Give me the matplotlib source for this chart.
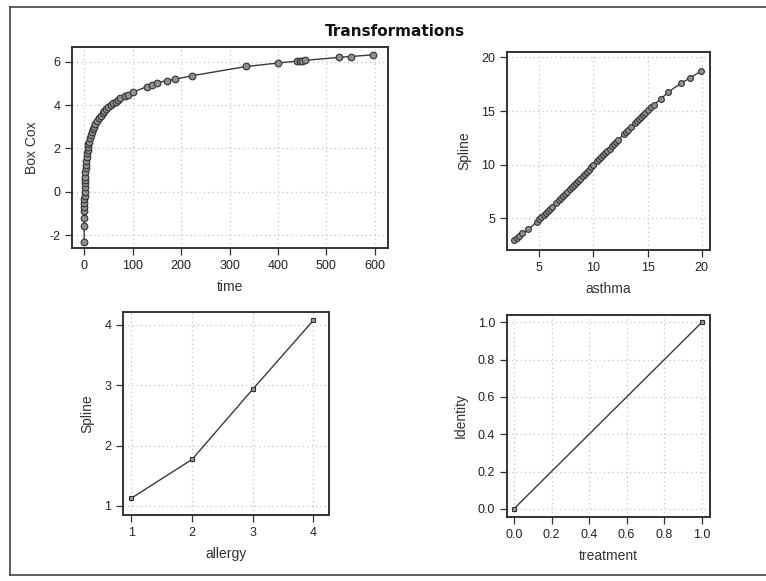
import matplotlib
matplotlib.use("Agg")
import matplotlib.pyplot as plt
from matplotlib.lines import Line2D

plt.rcParams['font.family'] = ['Liberation Sans', 'DejaVu Sans']
plt.rcParams['axes.unicode_minus'] = False

# ---- data ----
time_vals = [0.1, 0.2, 0.3, 0.4, 0.5, 0.6, 0.7, 0.8, 1.0, 1.2, 1.5, 1.7, 2, 2.5, 3, 3.5,
             4, 5, 6, 7, 8, 9, 10, 12, 14, 16, 18, 20, 23, 26, 30, 34, 38, 42, 46, 50,
             55, 60, 65, 70, 75, 85, 90, 100, 130, 140, 150, 170, 188, 222, 335, 400,
             440, 445, 450, 455, 525, 550, 597]
boxcox_vals = [-2.3, -1.6, -1.2, -0.9, -0.7, -0.5, -0.35, -0.2, 0.0, 0.2, 0.4, 0.55, 0.7,
               0.9, 1.1, 1.25, 1.4, 1.6, 1.8, 1.95, 2.08, 2.2, 2.3, 2.48, 2.63, 2.77,
               2.89, 3.0, 3.13, 3.26, 3.4, 3.52, 3.63, 3.73, 3.82, 3.91, 4.0, 4.09, 4.17,
               4.24, 4.31, 4.43, 4.49, 4.6, 4.86, 4.93, 5.02, 5.14, 5.2, 5.36, 5.79,
               5.95, 6.04, 6.05, 6.06, 6.07, 6.21, 6.25, 6.33]

asthma_vals = [2.65, 2.9, 3.1, 3.4, 4.0, 4.8, 5.0, 5.2, 5.4, 5.6, 5.8, 6.0, 6.2, 6.5,
               6.8, 7.0, 7.2, 7.4, 7.6, 7.8, 8.0, 8.2, 8.4, 8.6, 8.8, 9.0, 9.2, 9.4,
               9.6, 9.8, 10.0, 10.3, 10.5, 10.7, 10.9, 11.1, 11.3, 11.5, 11.7, 11.9,
               12.1, 12.3, 12.8, 13.0, 13.2, 13.5, 13.8, 14.0, 14.2, 14.4, 14.6, 14.8,
               15.0, 15.3, 15.6, 16.2, 16.9, 18.1, 18.9, 19.9]
spline_asthma = [2.95, 3.15, 3.4, 3.6, 3.97, 4.7, 4.9, 5.1, 5.3, 5.5, 5.7, 5.9, 6.1, 6.4,
                 6.7, 6.9, 7.1, 7.3, 7.5, 7.7, 7.9, 8.1, 8.3, 8.5, 8.7, 8.9, 9.1, 9.3,
                 9.55, 9.75, 9.97, 10.3, 10.5, 10.7, 10.9, 11.1, 11.3, 11.5, 11.7, 11.9,
                 12.1, 12.3, 12.85, 13.05, 13.25, 13.55, 13.85, 14.05, 14.25, 14.45,
                 14.65, 14.85, 15.1, 15.35, 15.6, 16.1, 16.75, 17.6, 18.05, 18.7]

allergy_vals = [1, 2, 3, 4]
spline_allergy = [1.13, 1.77, 2.93, 4.07]

treatment_vals = [0.0, 1.0]
identity_vals = [0.0, 1.0]

W, H = 766, 581
fig = plt.figure(figsize=(W / 100, H / 100), dpi=100)
fig.patch.set_facecolor('white')


def add_ax(left, top, right, bottom):
    return fig.add_axes([left / W, 1 - bottom / H, (right - left) / W, (bottom - top) / H])


def style(ax, xlabel, ylabel):
    for s in ax.spines.values():
        s.set_linewidth(1.4)
        s.set_color('#333333')
    ax.grid(True, linestyle=(0, (1, 2.5)), color='#c4c4c4', linewidth=0.9)
    ax.set_axisbelow(True)
    ax.tick_params(direction='out', length=5, width=0.9, pad=3.5, colors='#333333',
                   labelsize=9, labelcolor='#222222')
    ax.set_xlabel(xlabel, fontsize=10, color='#333333', labelpad=6)
    ax.set_ylabel(ylabel, fontsize=10, color='#333333', labelpad=7)


line_kw = dict(color='#3a3a3a', linewidth=1.0)

ax1 = add_ax(72, 47, 388, 248)
ax1.plot(time_vals, boxcox_vals, marker='o', markersize=4.8, markerfacecolor='#8f8f8f',
         markeredgecolor='#333333', markeredgewidth=0.8, **line_kw)
ax1.set_xlim(-25, 627)
ax1.set_ylim(-2.6, 6.69)
ax1.set_xticks([0, 100, 200, 300, 400, 500, 600])
ax1.set_yticks([-2, 0, 2, 4, 6])
style(ax1, 'time', 'Box Cox')

ax2 = add_ax(507, 52, 710, 250)
ax2.plot(asthma_vals, spline_asthma, marker='o', markersize=4.2, markerfacecolor='#8f8f8f',
         markeredgecolor='#333333', markeredgewidth=0.8, **line_kw)
ax2.set_xlim(2.02, 20.77)
ax2.set_ylim(2.05, 20.5)
ax2.set_xticks([5, 10, 15, 20])
ax2.set_yticks([5, 10, 15, 20])
style(ax2, 'asthma', 'Spline')

ax3 = add_ax(123, 312, 329, 515)
ax3.plot(allergy_vals, spline_allergy, marker='s', markersize=3.5, markerfacecolor='#9a9a9a',
         markeredgecolor='#333333', markeredgewidth=0.8, **line_kw)
ax3.set_xlim(0.86, 4.26)
ax3.set_ylim(0.85, 4.21)
ax3.set_xticks([1, 2, 3, 4])
ax3.set_yticks([1, 2, 3, 4])
style(ax3, 'allergy', 'Spline')

ax4 = add_ax(507, 315, 710, 517)
ax4.plot(treatment_vals, identity_vals, marker='s', markersize=3.5, markerfacecolor='#9a9a9a',
         markeredgecolor='#333333', markeredgewidth=0.8, **line_kw)
ax4.set_xlim(-0.037, 1.044)
ax4.set_ylim(-0.044, 1.04)
ax4.set_xticks([0.0, 0.2, 0.4, 0.6, 0.8, 1.0])
ax4.set_yticks([0.0, 0.2, 0.4, 0.6, 0.8, 1.0])
ax4.xaxis.set_major_formatter(matplotlib.ticker.FormatStrFormatter('%.1f'))
ax4.yaxis.set_major_formatter(matplotlib.ticker.FormatStrFormatter('%.1f'))
style(ax4, 'treatment', 'Identity')

fig.text(395 / W, 1 - 32 / H, 'Transformations', ha='center', va='center',
         fontsize=11, fontweight='bold', color='#111111', family=['DejaVu Sans'])

# outer frame
fx0, fy_top, fy_bot = 10 / W, 1 - 7 / H, 1 - 575 / H
for xs, ys in [([fx0, fx0], [fy_bot, fy_top]), ([fx0, 1.0], [fy_top, fy_top]),
               ([fx0, 1.0], [fy_bot, fy_bot])]:
    fig.add_artist(Line2D(xs, ys, transform=fig.transFigure, color='#444444', linewidth=1.2))

fig.savefig('out.png', dpi=100)
